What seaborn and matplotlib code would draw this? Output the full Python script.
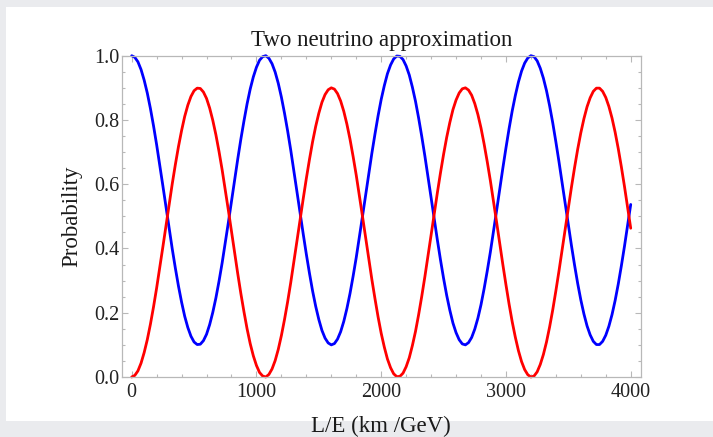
import pandas as pd
import seaborn as sns
import matplotlib.pyplot as plt
from matplotlib.patches import Rectangle
from matplotlib.ticker import MultipleLocator, FormatStrFormatter

# L/E sample grid (km/GeV), step 25
le = list(range(0, 4001, 25))

# appearance probability (red)
p_appear = [
    0.000, 0.005, 0.019, 0.043, 0.076, 0.116, 0.164, 0.218,   # 0-175
    0.277, 0.340, 0.405, 0.471, 0.537, 0.601, 0.661, 0.717,   # 200-375
    0.767, 0.811, 0.846, 0.873, 0.891, 0.899, 0.898, 0.887,   # 400-575
    0.867, 0.837, 0.799, 0.754, 0.702, 0.645, 0.583, 0.519,   # 600-775
    0.453, 0.387, 0.322, 0.260, 0.203, 0.150, 0.104, 0.066,   # 800-975
    0.036, 0.014, 0.003, 0.000, 0.008, 0.025, 0.051, 0.086,   # 1000-1175
    0.129, 0.179, 0.234, 0.294, 0.358, 0.424, 0.490, 0.555,   # 1200-1375
    0.618, 0.677, 0.732, 0.780, 0.821, 0.855, 0.879, 0.894,   # 1400-1575
    0.900, 0.896, 0.882, 0.859, 0.827, 0.787, 0.740, 0.686,   # 1600-1775
    0.628, 0.565, 0.500, 0.434, 0.368, 0.304, 0.244, 0.187,   # 1800-1975
    0.136, 0.093, 0.056, 0.029, 0.010, 0.001, 0.002, 0.012,   # 2000-2175
    0.032, 0.060, 0.098, 0.142, 0.194, 0.251, 0.312, 0.376,   # 2200-2375
    0.442, 0.508, 0.573, 0.635, 0.693, 0.746, 0.792, 0.832,   # 2400-2575
    0.862, 0.884, 0.897, 0.900, 0.893, 0.877, 0.851, 0.817,   # 2600-2775
    0.775, 0.725, 0.670, 0.611, 0.547, 0.482, 0.416, 0.350,   # 2800-2975
    0.287, 0.227, 0.172, 0.124, 0.082, 0.048, 0.023, 0.007,   # 3000-3175
    0.000, 0.003, 0.016, 0.039, 0.070, 0.109, 0.156, 0.209,   # 3200-3375
    0.268, 0.330, 0.395, 0.461, 0.527, 0.591, 0.652, 0.709,   # 3400-3575
    0.760, 0.804, 0.841, 0.869, 0.889, 0.899, 0.899, 0.889,   # 3600-3775
    0.870, 0.842, 0.806, 0.762, 0.711, 0.654, 0.593, 0.529,   # 3800-3975
    0.463,                                                    # 4000
]

# survival probability (blue)
p_survive = [
    1.000, 0.995, 0.981, 0.957, 0.924, 0.884, 0.836, 0.782,
    0.723, 0.660, 0.595, 0.529, 0.463, 0.399, 0.339, 0.283,
    0.233, 0.189, 0.154, 0.127, 0.109, 0.101, 0.102, 0.113,
    0.133, 0.163, 0.201, 0.246, 0.298, 0.355, 0.417, 0.481,
    0.547, 0.613, 0.678, 0.740, 0.797, 0.850, 0.896, 0.934,
    0.964, 0.986, 0.997, 1.000, 0.992, 0.975, 0.949, 0.914,
    0.871, 0.821, 0.766, 0.706, 0.642, 0.576, 0.510, 0.445,
    0.382, 0.323, 0.268, 0.220, 0.179, 0.145, 0.121, 0.106,
    0.100, 0.104, 0.118, 0.141, 0.173, 0.213, 0.260, 0.314,
    0.372, 0.435, 0.500, 0.566, 0.632, 0.696, 0.756, 0.813,
    0.864, 0.907, 0.944, 0.971, 0.990, 0.999, 0.998, 0.988,
    0.968, 0.940, 0.902, 0.858, 0.806, 0.749, 0.688, 0.624,
    0.558, 0.492, 0.427, 0.365, 0.307, 0.254, 0.208, 0.168,
    0.138, 0.116, 0.103, 0.100, 0.107, 0.123, 0.149, 0.183,
    0.225, 0.275, 0.330, 0.389, 0.453, 0.518, 0.584, 0.650,
    0.713, 0.773, 0.828, 0.876, 0.918, 0.952, 0.977, 0.993,
    1.000, 0.997, 0.984, 0.961, 0.930, 0.891, 0.844, 0.791,
    0.732, 0.670, 0.605, 0.539, 0.473, 0.409, 0.348, 0.291,
    0.240, 0.196, 0.159, 0.131, 0.111, 0.101, 0.101, 0.111,
    0.130, 0.158, 0.194, 0.238, 0.289, 0.346, 0.407, 0.471,
    0.537,
]

df = pd.DataFrame({"le": le, "appear": p_appear, "survive": p_survive})

sns.set_theme(style="ticks")
plt.rcParams["font.family"] = ["Liberation Serif", "DejaVu Serif"]

W, H = 713, 437
fig = plt.figure(figsize=(W / 100, H / 100), dpi=100, facecolor="#eaebee")
# white slide panel behind the plot
fig.patches.append(Rectangle((6 / W, 1 - 421 / H), 1, (421 - 7) / H,
                             transform=fig.transFigure, facecolor="white",
                             edgecolor="none", zorder=-5))

ax = fig.add_axes([121.7 / W, 1 - 377 / H, (640.7 - 121.7) / W, (377 - 55.7) / H])
ax.set_zorder(2)

sns.lineplot(data=df, x="le", y="survive", ax=ax, color="#0000ff", lw=2.0, clip_on=False)
sns.lineplot(data=df, x="le", y="appear", ax=ax, color="#ff0000", lw=2.0, clip_on=False)

ax.set_xlim(-80, 4080)
ax.set_ylim(0, 1)
ax.xaxis.set_major_locator(MultipleLocator(1000))
ax.xaxis.set_minor_locator(MultipleLocator(200))
ax.yaxis.set_major_locator(MultipleLocator(0.2))
ax.yaxis.set_minor_locator(MultipleLocator(0.05))
ax.yaxis.set_major_formatter(FormatStrFormatter("%.1f"))

frame = "#b8b8b8"
for s in ax.spines.values():
    s.set_color(frame)
    s.set_linewidth(0.9)
ax.tick_params(which="both", direction="in", top=True, right=True,
               color=frame, width=0.8, labelcolor="#222222", labelsize=14.5)
ax.tick_params(which="major", length=4.5)
ax.tick_params(which="minor", length=2.2)
ax.tick_params(axis="y", pad=1.5)
ax.tick_params(axis="x", pad=4)

ax.set_title("Two neutrino approximation", fontsize=16.5, pad=7, color="#1a1a1a")
ax.set_xlabel("L/E (km /GeV)", fontsize=16.5, labelpad=10, color="#1a1a1a")
ax.set_ylabel("Probability", fontsize=16.5, labelpad=9, color="#1a1a1a")

fig.savefig("out.png", dpi=100, facecolor=fig.get_facecolor())
